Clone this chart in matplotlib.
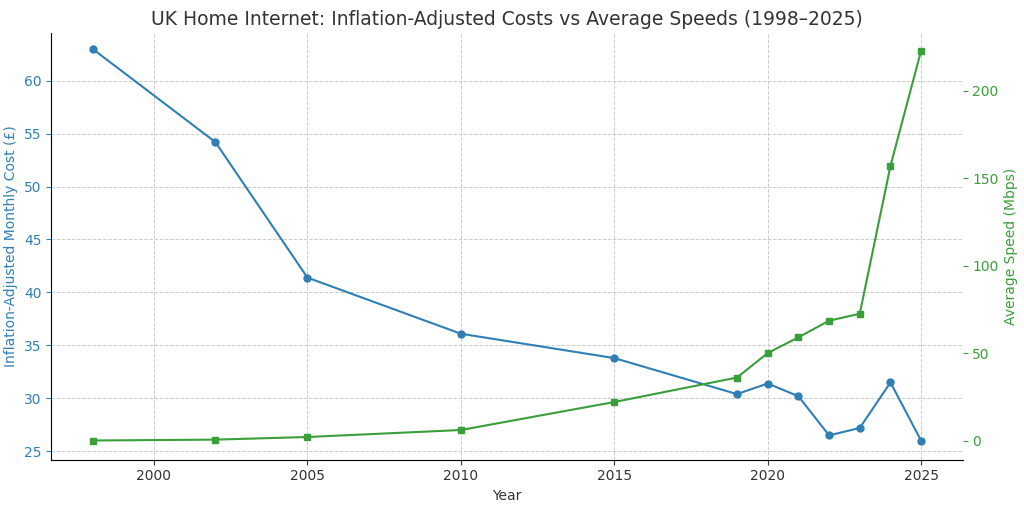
import matplotlib.pyplot as plt

years = [1998, 2002, 2005, 2010, 2015, 2019, 2020, 2021, 2022, 2023, 2024, 2025]
cost = [63.0, 54.2, 41.4, 36.1, 33.8, 30.4, 31.4, 30.2, 26.5, 27.2, 31.5, 26.0]
speed = [0, 0.5, 2, 6, 22, 36, 50, 59, 68.5, 72.5, 157, 223]

blue = "#2f7fb5"
green = "#3a9e3a"

fig, ax = plt.subplots(figsize=(10.24, 5.08), dpi=100)
ax.plot(years, cost, 'o-', color=blue, markersize=5, linewidth=1.5)
ax.set_ylabel("Inflation-Adjusted Monthly Cost (£)", color=blue, fontsize=10)
ax.set_xlabel("Year", fontsize=10, color="#333333")
ax.tick_params(axis='y', colors=blue, labelsize=10)
ax.tick_params(axis='x', labelsize=10, colors="#333333")
ax.set_ylim(24.2, 64.5)
ax.set_xticks([2000, 2005, 2010, 2015, 2020, 2025])
ax.grid(True, linestyle='--', color='#cccccc', linewidth=0.7)
ax.spines['top'].set_visible(False)
ax.spines['right'].set_visible(False)

ax2 = ax.twinx()
ax2.plot(years, speed, 's-', color=green, markersize=5, linewidth=1.5)
ax2.set_ylabel("Average Speed (Mbps)", color=green, fontsize=10)
ax2.tick_params(axis='y', colors=green, labelsize=10)
ax2.set_ylim(-11, 233)
for s in ['top', 'right', 'left', 'bottom']:
    ax2.spines[s].set_visible(False)

ax.set_title("UK Home Internet: Inflation-Adjusted Costs vs Average Speeds (1998–2025)",
             fontsize=13.5, color="#333333")
fig.subplots_adjust(left=0.05, right=0.94, top=0.935, bottom=0.095)
fig.savefig("out.png")
